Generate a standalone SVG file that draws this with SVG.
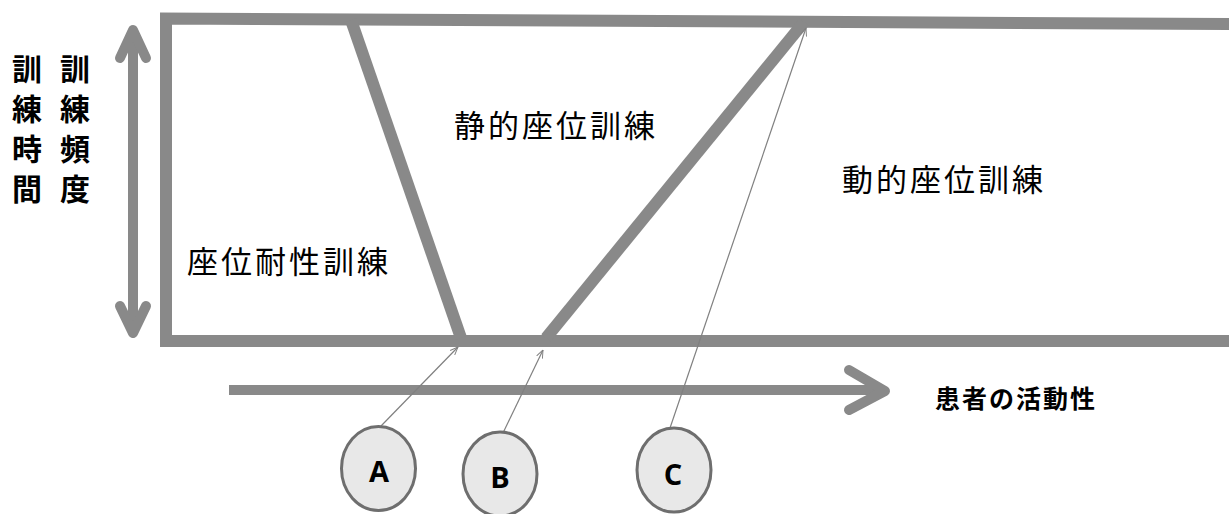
<svg xmlns="http://www.w3.org/2000/svg" width="1229" height="514" viewBox="0 0 1229 514">
<style>
.bar{fill:none;stroke:#898989;stroke-width:12;stroke-linejoin:miter}
.arr{fill:none;stroke:#898989;stroke-width:10;stroke-linecap:round;stroke-linejoin:round}
.thin{fill:none;stroke:#808080;stroke-width:1.2}
.jp{font-family:"Noto Sans CJK JP","Noto Sans CJK SC",sans-serif;fill:#000}
.lbl{font-size:31px;letter-spacing:3px}
.bold{font-weight:bold}
.circ{fill:#e8e8e8;stroke:#6e6e6e;stroke-width:3}
.let{font-family:"Open Sans","Liberation Sans",sans-serif;font-weight:bold;font-size:29px;text-anchor:middle;fill:#000}
</style>
<defs>
<marker id="ah" viewBox="0 0 10 10" refX="10" refY="5" markerWidth="8" markerHeight="8" markerUnits="userSpaceOnUse" orient="auto">
<path d="M0,1 L10,5 L0,9" fill="none" stroke="#808080" stroke-width="1.2"/>
</marker>
</defs>
<g id="frame">
<path class="bar" d="M1229,24 L166,18.5 L166,341 L1229,341"/>
<path class="bar" d="M351,20 L461,338"/>
<path class="bar" d="M804,22 L546,338"/>
</g>
<g id="axis-vertical">
<path class="arr" d="M133,32 L133,331"/>
<path class="arr" d="M120,58 L133,30 L146,58"/>
<path class="arr" d="M120,306 L133,333 L146,306"/>
<text class="jp bold" font-size="30" text-anchor="middle"><tspan x="27" y="80">訓</tspan><tspan x="27" y="120">練</tspan><tspan x="27" y="160">時</tspan><tspan x="27" y="200">間</tspan></text>
<text class="jp bold" font-size="30" text-anchor="middle"><tspan x="75" y="80">訓</tspan><tspan x="75" y="120">練</tspan><tspan x="75" y="160">頻</tspan><tspan x="75" y="200">度</tspan></text>
</g>
<g id="axis-horizontal">
<path class="arr" d="M229,390 L882,390" style="stroke-linecap:butt"/>
<path class="arr" d="M849,370 L885,391 L849,410"/>
<text class="jp bold" x="935" y="408" font-size="25" letter-spacing="2">患者の活動性</text>
</g>
<g id="zone-endurance"><text class="jp lbl" x="187" y="273">座位耐性訓練</text></g>
<g id="zone-static"><text class="jp lbl" x="454" y="137">静的座位訓練</text></g>
<g id="zone-dynamic"><text class="jp lbl" x="842" y="191">動的座位訓練</text></g>
<g id="connectors">
<line class="thin" x1="381" y1="426" x2="458" y2="347" marker-end="url(#ah)"/>
<line class="thin" x1="503" y1="433" x2="543" y2="350" marker-end="url(#ah)"/>
<line class="thin" x1="670" y1="428" x2="806" y2="28" marker-end="url(#ah)"/>
</g>
<g id="node-A"><ellipse class="circ" cx="378.5" cy="468.5" rx="37" ry="42"/><text class="let" x="379" y="482">A</text></g>
<g id="node-B"><ellipse class="circ" cx="500" cy="474" rx="37" ry="42"/><text class="let" x="500" y="488">B</text></g>
<g id="node-C"><ellipse class="circ" cx="674" cy="470" rx="37" ry="42"/><text class="let" x="673" y="485">C</text></g>
</svg>
